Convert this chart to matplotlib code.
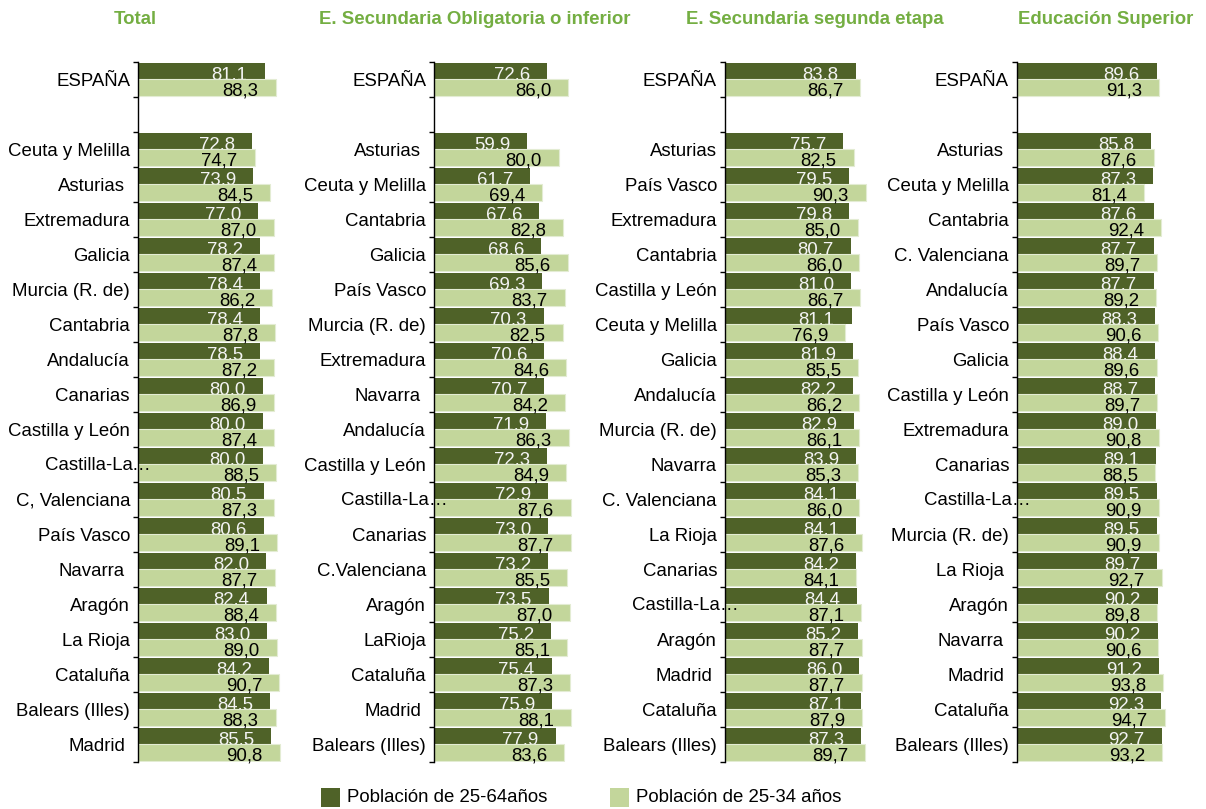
import matplotlib
matplotlib.use('Agg')
import matplotlib.pyplot as plt
from matplotlib.transforms import ScaledTranslation
from matplotlib.patches import Rectangle
import numpy as np

plt.rcParams['font.family'] = ['Liberation Sans', 'DejaVu Sans']

titles = ["Total", "E. Secundaria Obligatoria o inferior",
          "E. Secundaria segunda etapa", "Educación Superior"]
legend_labels = ["Población de 25-64años", "Población de 25-34 años"]

cats_total = ["ESPAÑA", "Ceuta y Melilla", "Asturias ", "Extremadura", "Galicia",
              "Murcia (R. de)", "Cantabria", "Andalucía", "Canarias", "Castilla y León",
              "Castilla-La…", "C, Valenciana", "País Vasco", "Navarra ", "Aragón",
              "La Rioja", "Cataluña", "Balears (Illes)", "Madrid "]
v2564_total = [81.1, 72.8, 73.9, 77.0, 78.2, 78.4, 78.4, 78.5, 80.0, 80.0,
               80.0, 80.5, 80.6, 82.0, 82.4, 83.0, 84.2, 84.5, 85.5]
v2534_total = [88.3, 74.7, 84.5, 87.0, 87.4, 86.2, 87.8, 87.2, 86.9, 87.4,
               88.5, 87.3, 89.1, 87.7, 88.4, 89.0, 90.7, 88.3, 90.8]

cats_eso = ["ESPAÑA", "Asturias ", "Ceuta y Melilla", "Cantabria", "Galicia",
            "País Vasco", "Murcia (R. de)", "Extremadura", "Navarra ", "Andalucía",
            "Castilla y León", "Castilla-La…", "Canarias", "C.Valenciana", "Aragón",
            "LaRioja", "Cataluña", "Madrid ", "Balears (Illes)"]
v2564_eso = [72.6, 59.9, 61.7, 67.6, 68.6, 69.3, 70.3, 70.6, 70.7, 71.9,
             72.3, 72.9, 73.0, 73.2, 73.5, 75.2, 75.4, 75.9, 77.9]
v2534_eso = [86.0, 80.0, 69.4, 82.8, 85.6, 83.7, 82.5, 84.6, 84.2, 86.3,
             84.9, 87.6, 87.7, 85.5, 87.0, 85.1, 87.3, 88.1, 83.6]

cats_sec = ["ESPAÑA", "Asturias", "País Vasco", "Extremadura", "Cantabria",
            "Castilla y León", "Ceuta y Melilla", "Galicia", "Andalucía", "Murcia (R. de)",
            "Navarra", "C. Valenciana", "La Rioja", "Canarias", "Castilla-La…",
            "Aragón", "Madrid ", "Cataluña", "Balears (Illes)"]
v2564_sec = [83.8, 75.7, 79.5, 79.8, 80.7, 81.0, 81.1, 81.9, 82.2, 82.9,
             83.9, 84.1, 84.1, 84.2, 84.4, 85.2, 86.0, 87.1, 87.3]
v2534_sec = [86.7, 82.5, 90.3, 85.0, 86.0, 86.7, 76.9, 85.5, 86.2, 86.1,
             85.3, 86.0, 87.6, 84.1, 87.1, 87.7, 87.7, 87.9, 89.7]

cats_sup = ["ESPAÑA", "Asturias ", "Ceuta y Melilla", "Cantabria", "C. Valenciana",
            "Andalucía", "País Vasco", "Galicia", "Castilla y León", "Extremadura",
            "Canarias", "Castilla-La…", "Murcia (R. de)", "La Rioja ", "Aragón",
            "Navarra ", "Madrid ", "Cataluña", "Balears (Illes)"]
v2564_sup = [89.6, 85.8, 87.3, 87.6, 87.7, 87.7, 88.3, 88.4, 88.7, 89.0,
             89.1, 89.5, 89.5, 89.7, 90.2, 90.2, 91.2, 92.3, 92.7]
v2534_sup = [91.3, 87.6, 81.4, 92.4, 89.7, 89.2, 90.6, 89.6, 89.7, 90.8,
             88.5, 90.9, 90.9, 92.7, 89.8, 90.6, 93.8, 94.7, 93.2]

panels = [(cats_total, v2564_total, v2534_total),
          (cats_eso, v2564_eso, v2534_eso),
          (cats_sec, v2564_sec, v2534_sec),
          (cats_sup, v2564_sup, v2534_sup)]

DARK = '#4f6228'
LIGHT = '#c3d69b'
TITLE = '#74ae42'
FS = 13.4
W, H = 1206, 809
PX = 0.72  # points per pixel at dpi 100

fig = plt.figure(figsize=(W / 100, H / 100), dpi=100)
lefts = [138, 434, 725, 1017]
ax_w = 156
top, bottom = 62, 762
bh = 0.46
off = 0.23

def fmt(v):
    return f"{v:.1f}".replace('.', ',')

for i, (cats, a, b) in enumerate(panels):
    ax = fig.add_axes([lefts[i] / W, 1 - bottom / H, ax_w / W, (bottom - top) / H])
    pos = np.array([0] + list(range(2, 2 + len(cats) - 1)), dtype=float)
    ax.barh(pos - off, a, height=bh, color=DARK, zorder=1)
    for p, v in zip(pos, a):
        ax.annotate(fmt(v), xy=(v, p - off + bh / 2), xytext=(-17 * PX, 0.3 * PX),
                    textcoords='offset points', ha='right', va='baseline',
                    color='#f4f4f4', fontsize=FS, zorder=1.5)
    ax.barh(pos + off, b, height=bh, color=LIGHT, edgecolor='#e3ecd3',
            linewidth=0.8, zorder=2)
    for p, v in zip(pos, b):
        ax.annotate(fmt(v), xy=(v, p + off + bh / 2), xytext=(-17 * PX, 0.3 * PX),
                    textcoords='offset points', ha='right', va='baseline',
                    color='black', fontsize=FS, zorder=2.2)
    ax.set_xlim(0, 100)
    ax.set_ylim(19.5, -0.5)
    for s in ['top', 'right', 'bottom']:
        ax.spines[s].set_visible(False)
    ax.spines['left'].set_linewidth(1.0)
    ax.spines['left'].set_color('black')
    ax.set_xticks([])
    ax.set_yticks(pos)
    labels = [c.rstrip() if not c.endswith('…') else '' for c in cats]
    ax.set_yticklabels(labels, fontsize=FS)
    ax.set_yticks(np.arange(-0.5, 20, 1), minor=True)
    ax.tick_params(axis='y', which='major', length=0, pad=8 * PX)
    ax.tick_params(axis='y', which='minor', length=5 * PX, width=1, direction='out')
    ax.patch.set_visible(False)
    for lab, c, p in zip(ax.get_yticklabels(), cats, pos):
        n = len(c) - len(c.rstrip())
        if n:
            lab.set_transform(lab.get_transform() +
                              ScaledTranslation(-5 * n / 100, 0, fig.dpi_scale_trans))
        if c.endswith('…'):
            # truncated label whose ellipsis overhangs the axis line
            ax.annotate(c[:-1], xy=(0, p), xycoords=('axes fraction', 'data'),
                        xytext=(-5 * PX, -1 * PX), textcoords='offset points',
                        ha='right', va='center', fontsize=FS, zorder=5,
                        annotation_clip=False)
            ax.annotate('…', xy=(0, p), xycoords=('axes fraction', 'data'),
                        xytext=(-6 * PX, -1 * PX), textcoords='offset points',
                        ha='left', va='center', fontsize=FS, zorder=5,
                        annotation_clip=False)

title_x = [135, 475, 815, 1106]
for t, x in zip(titles, title_x):
    fig.text(x / W, 1 - 20 / H, t, ha='center', va='center', fontsize=FS,
             fontweight='bold', color=TITLE)

# legend
leg = [(321, DARK, legend_labels[0]), (610, LIGHT, legend_labels[1])]
for x, col, txt in leg:
    fig.patches.append(Rectangle((x / W, 1 - 807 / H), 19 / W, 19 / H,
                                 transform=fig.transFigure, facecolor=col,
                                 edgecolor='none'))
    fig.text((x + 26) / W, 1 - 798 / H, txt, ha='left', va='center', fontsize=FS)

fig.savefig('out.png', dpi=100)
